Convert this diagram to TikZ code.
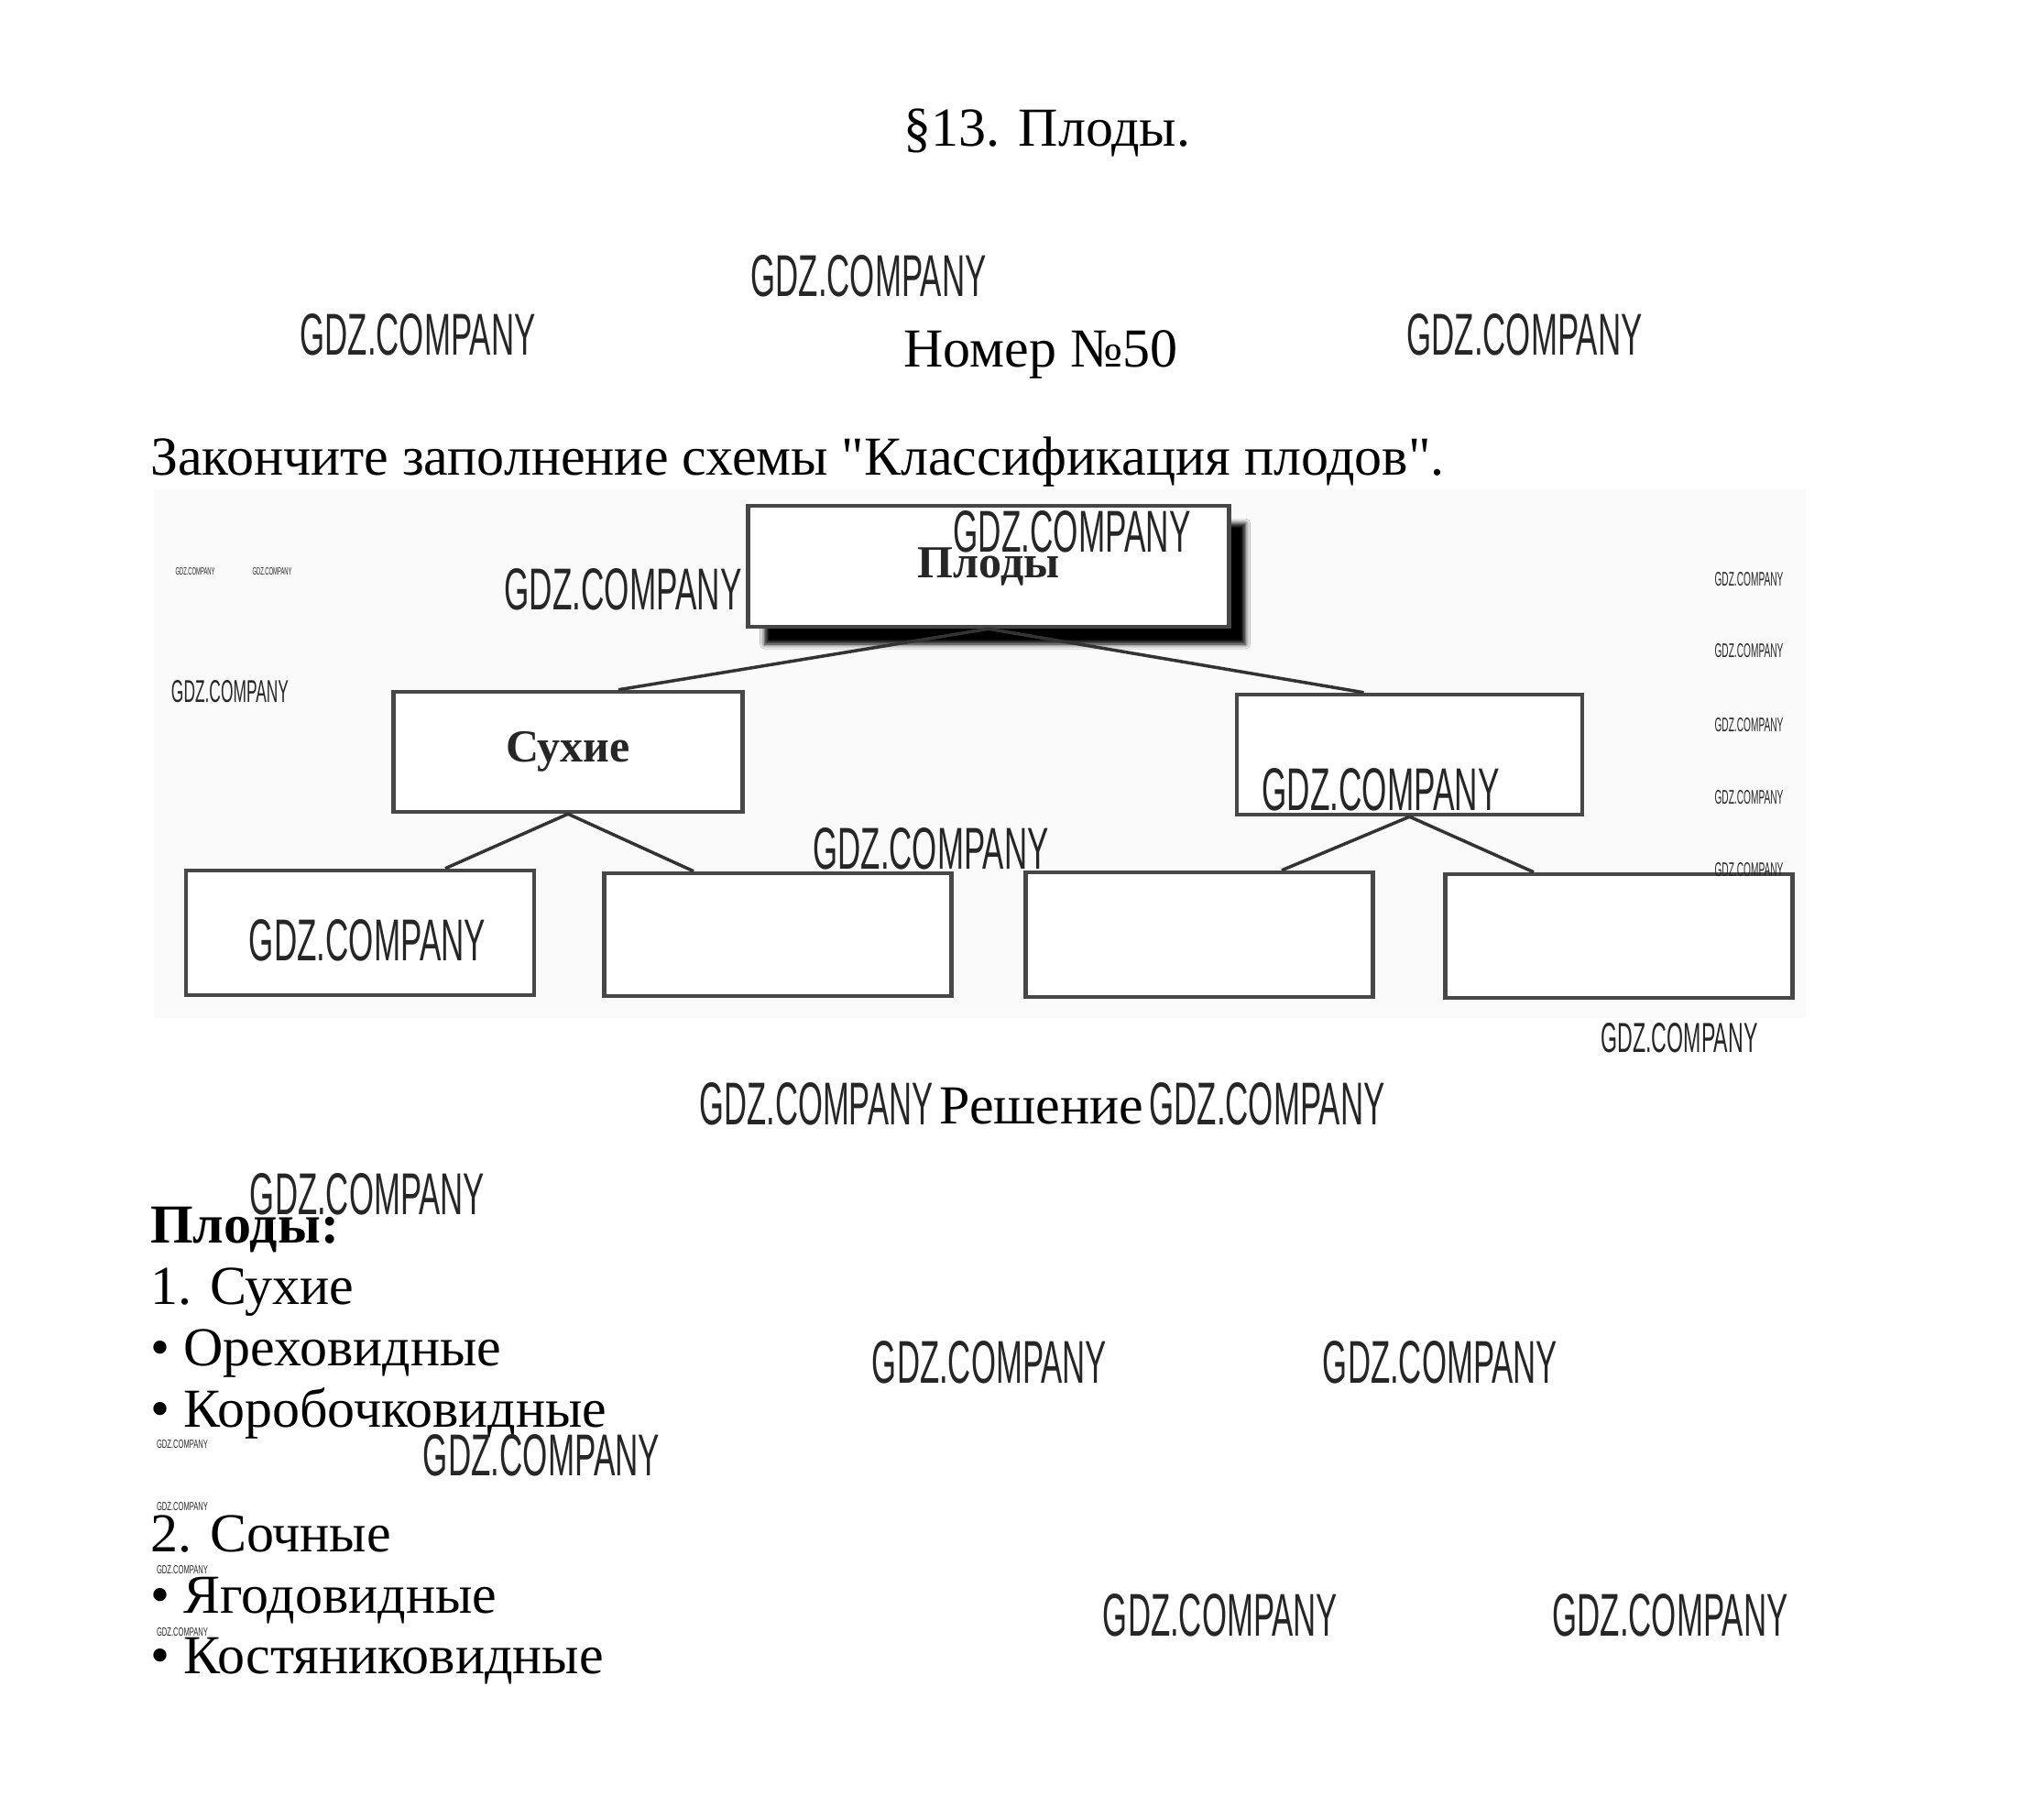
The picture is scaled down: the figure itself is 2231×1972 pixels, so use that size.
\documentclass[tikz,border=0pt]{standalone}
\usepackage{fontspec}
\setmainfont{Liberation Serif}
\newfontfamily\wmfont{Liberation Sans}
\usepackage{graphicx}
\usetikzlibrary{shadows.blur}
\newcommand{\gdz}[2]{\resizebox{#1pt}{#2pt}{\wmfont GDZ.COMPANY}}
\newcommand{\sq}{\XeTeXglyph\XeTeXcharglyph"22\relax}
\tikzset{
  txt/.style={inner sep=0pt, font=\fontsize{60}{72}\selectfont},
  boxnode/.style={draw=black!72, line width=4.5pt, fill=white, inner sep=0pt,
                  font=\fontsize{50}{60}\selectfont\bfseries, text=black!85},
  conn/.style={draw=black!80, line width=3.5pt},
  wm/.style={inner sep=0pt, text=black!85}
}
\begin{document}
\begin{tikzpicture}[x=1pt,y=-1pt]
\useasboundingbox (0,0) rectangle (2231,1972);
\fill[white] (0,0) rectangle (2231,1972);

% headings
\node[txt, anchor=base] (title) at (1143,160) {§13. Плоды.};
\node[txt, anchor=base] (nomer) at (1136,400) {Номер №50};
\node[txt, anchor=base west] (task) at (164,518) {Закончите заполнение схемы \sq Классификация плодов\sq.};

% scanned diagram background
\fill[black!2] (168,534) rectangle (1971,1111);

% boxes
\node[boxnode, minimum width=525pt, minimum height=132pt,
      blur shadow={shadow xshift=18pt, shadow yshift=-19pt, shadow blur radius=5pt, shadow opacity=100}]
      (plody) at (1079,618) {Плоды};
\node[boxnode, minimum width=381pt, minimum height=131pt] (suh) at (620,820.5) {Сухие};
\node[boxnode, minimum width=377pt, minimum height=131pt] (soch) at (1538.5,823.5) {};
\node[boxnode, minimum width=380pt, minimum height=136pt] (b1) at (393,1018) {};
\node[boxnode, minimum width=379pt, minimum height=134pt] (b2) at (849,1020) {};
\node[boxnode, minimum width=379pt, minimum height=136pt] (b3) at (1309,1020) {};
\node[boxnode, minimum width=379pt, minimum height=135pt] (b4) at (1767,1021.5) {};

% connectors
\draw[conn] (plody.south) -- ([xshift=55pt]suh.north);
\draw[conn] (plody.south) -- ([xshift=-50pt]soch.north);
\draw[conn] (suh.south) -- ([xshift=93pt]b1.north);
\draw[conn] (suh.south) -- ([xshift=-92pt]b2.north);
\draw[conn] (soch.south) -- ([xshift=90pt]b3.north);
\draw[conn] (soch.south) -- ([xshift=-93pt]b4.north);

% solution
\node[txt, anchor=base] (resh) at (1137,1226) {Решение};
\node[txt, anchor=base west, font=\fontsize{60}{72}\selectfont\bfseries] (l0) at (164,1356) {Плоды:};
\node[txt, anchor=base west] (l1) at (164,1423) {1. Сухие};
\node[txt, anchor=base west] (l2) at (164,1490) {• Ореховидные};
\node[txt, anchor=base west] (l3) at (164,1557) {• Коробочковидные};
\node[txt, anchor=base west] (l4) at (164,1693) {2. Сочные};
\node[txt, anchor=base west] (l5) at (164,1760) {• Ягодовидные};
\node[txt, anchor=base west] (l6) at (164,1826) {• Костяниковидные};

% watermarks
\node[wm] (w1) at (948,301) {\gdz{257}{45}};
\node[wm] (w2) at (456,365) {\gdz{257}{45}};
\node[wm] (w3) at (1664,365) {\gdz{257}{45}};
\node[wm] (w4) at (1170,580) {\gdz{259}{45}};
\node[wm] (w5) at (680,643) {\gdz{259}{45}};
\node[wm] (w6) at (251,755) {\gdz{128}{24}};
\node[wm] (w7) at (213,624) {\gdz{43}{8}};
\node[wm] (w8) at (297,624) {\gdz{43}{8}};
\node[wm] (w9) at (1507,862) {\gdz{259}{46}};
\node[wm] (w10) at (1016,926) {\gdz{257}{45}};
\node[wm] (w11) at (401,1026) {\gdz{258}{45}};
\node[wm] (w12) at (1909,632) {\gdz{75}{15}};
\node[wm] (w13) at (1909,710) {\gdz{75}{15}};
\node[wm] (w14) at (1909,791) {\gdz{75}{15}};
\node[wm] (w15) at (1909,870) {\gdz{75}{15}};
\node[wm] (w16) at (1909,949) {\gdz{75}{15}};
\node[wm] (w17) at (1833,1133) {\gdz{171}{32}};
\node[wm] (w18) at (891,1205) {\gdz{255}{46}};
\node[wm] (w19) at (1383,1205) {\gdz{257}{46}};
\node[wm] (w20) at (401,1303) {\gdz{256}{45}};
\node[wm] (w21) at (1080,1487) {\gdz{256}{46}};
\node[wm] (w22) at (1572,1487) {\gdz{256}{46}};
\node[wm] (w23) at (591,1588) {\gdz{258}{45}};
\node[wm] (w24) at (199,1576) {\gdz{56}{9}};
\node[wm] (w25) at (199,1644) {\gdz{56}{9}};
\node[wm] (w26) at (199,1713) {\gdz{56}{9}};
\node[wm] (w27) at (199,1781) {\gdz{56}{9}};
\node[wm] (w28) at (1332,1763) {\gdz{256}{46}};
\node[wm] (w29) at (1823,1763) {\gdz{257}{46}};
\end{tikzpicture}
\end{document}
